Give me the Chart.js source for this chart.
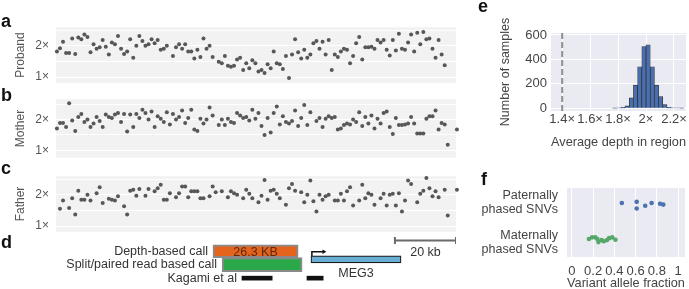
<!DOCTYPE html>
<html>
<head>
<meta charset="utf-8">
<script src="https://cdn.jsdelivr.net/npm/chart.js@4.4.0/dist/chart.umd.min.js"></script>
<style>
  body { margin: 0; background: #fff; }
  #fig { position: relative; width: 689px; height: 289px; overflow: hidden; font-family: "Liberation Sans", Arial, sans-serif; }
  canvas { position: absolute; }
  .panel { position: absolute; font-weight: bold; font-size: 18px; line-height: 18px; color: #111; }
</style>
</head>
<body>
<div id="fig">
  <canvas id="chartA" width="470" height="84" style="left:0;top:13px"></canvas>
  <canvas id="chartB" width="470" height="87" style="left:0;top:85px"></canvas>
  <canvas id="chartC" width="470" height="84" style="left:0;top:162px"></canvas>
  <canvas id="chartD" width="470" height="61" style="left:0;top:228px"></canvas>
  <canvas id="chartE" width="219" height="152" style="left:470px;top:0"></canvas>
  <canvas id="chartF" width="219" height="126" style="left:470px;top:165px"></canvas>
  <div class="panel" style="left:1px;top:12px">a</div>
  <div class="panel" style="left:1px;top:86px">b</div>
  <div class="panel" style="left:1px;top:159px">c</div>
  <div class="panel" style="left:1px;top:233px">d</div>
  <div class="panel" style="left:478px;top:-3px">e</div>
  <div class="panel" style="left:481px;top:170px">f</div>
</div>
<script>
// read depth per 1 kb window (x = window index, kb)
const probandDepth = [1.82, 1.92, 2.13, 1.77, 1.77, 2.23, 1.74, 2.26, 2.21, 2.36,
  2.28, 1.79, 2.05, 1.90, 1.95, 2.18, 1.97, 1.72, 2.10, 2.05,
  2.31, 1.90, 1.74, 1.82, 2.21, 1.62, 2.00, 2.31, 2.15, 2.00,
  2.05, 2.21, 2.08, 2.18, 1.87, 1.90, 2.00, null, 1.67, 1.95,
  2.05, 1.90, 2.05, 1.82, 1.82, 1.59, 1.87, 1.64, 2.23, 1.90,
  2.00, 1.64, null, 1.49, 1.44, 1.67, 1.36, 1.33, 1.36, 1.56,
  1.62, 1.23, 1.44, 1.28, 1.54, 1.44, 1.18, 1.23, 1.13, 1.41,
  1.28, 1.82, 1.44, 1.41, 1.26, 1.67, 0.97, 1.72, 2.21, 1.79,
  1.59, 1.87, 1.62, 1.72, 2.08, 2.15, 1.90, 2.13, 1.72, 2.18,
  1.23, 1.72, 1.64, 1.82, 1.90, 1.87, 1.44, 1.67, 2.08, 2.28,
  1.56, 1.95, 1.95, 1.97, 1.90, 2.18, 2.10, 2.18, 1.87, 1.69,
  2.18, 1.85, 2.38, 1.90, 1.87, 2.10, 2.36, 1.82, 2.41, 2.05,
  2.44, 2.21, 2.23, 1.90, 1.62, 2.18, 1.72, 1.38];

const motherDepth = [1.71, 1.89, 1.89, 1.76, 2.53, 1.97, 1.63, 2.08, 2.18, 1.92,
  2.00, 1.76, 1.87, 2.08, 1.95, 1.76, 2.16, 2.08, 2.05, 2.16,
  2.21, 1.92, 2.18, 1.61, 2.16, 1.76, 2.18, 2.05, 2.32, 2.21,
  2.00, 2.26, 1.76, 2.11, 2.03, 1.92, 2.24, 1.84, 2.18, 2.00,
  2.08, 2.29, 1.89, 2.05, 2.32, 1.68, 1.63, 2.03, 1.87, 2.00,
  2.39, 2.13, null, 1.82, 2.00, 1.82, 2.03, 1.92, 1.89, 2.21,
  2.13, 2.05, 2.08, 1.97, 2.32, 2.03, 2.21, 1.79, 1.50, 2.05,
  1.58, 2.21, 2.42, 1.84, 2.11, 1.92, 1.87, 1.95, 2.29, 1.79,
  2.05, 2.47, 1.82, 2.24, null, 1.95, 2.05, 1.76, 2.03, 2.11,
  2.05, 2.08, 1.68, 1.71, 1.82, 1.87, 1.84, 2.00, 1.92, 2.24,
  1.79, 2.08, 1.87, 2.13, 1.71, 2.03, 1.87, 2.21, 2.26, 1.76,
  1.53, 2.05, 1.82, 1.82, 1.84, 1.87, 2.08, 1.87, 1.55, 1.55,
  1.55, 2.03, 2.11, 2.11, 2.29, 1.68, 1.89, 1.84, 1.18, null,
  null, 1.68];

const fatherDepth = [null, 1.55, 1.82, null, 1.58, 1.89, 1.37, 2.13, 1.84, 1.84,
  2.00, 1.82, null, 2.05, 2.24, 1.74, null, 1.87, 1.84, 1.82,
  1.95, null, 1.63, 1.37, 2.13, 2.16, 1.97, 2.18, null, 1.97,
  2.18, null, 2.11, 2.21, 2.32, 1.84, 1.84, 2.05, null, 1.92,
  2.05, 2.26, 2.26, 1.92, 2.11, 2.11, 2.11, 1.89, 1.89, null,
  1.95, 2.26, 2.08, null, 2.11, null, 1.92, 2.11, 2.05, 2.00,
  null, 1.89, 2.16, 2.03, 1.89, null, 1.76, 1.97, 2.47, 1.84,
  2.13, 2.16, 2.03, 1.89, null, 1.68, 2.21, 2.34, 2.13, null,
  2.08, 1.76, 2.00, 2.45, 1.79, 1.47, 2.00, 1.84, 1.95, 2.00,
  null, 1.82, 1.82, 2.03, 1.82, 2.11, 2.24, 1.66, null, 1.82,
  2.32, 1.89, 2.05, 2.00, 1.68, null, 1.89, 2.03, 1.66, 2.00,
  2.03, 1.66, 2.05, 1.47, 1.82, 2.45, 2.34, null, 1.76, 2.03,
  2.13, 2.53, 2.21, 1.95, 2.11, 1.92, null, 2.16, 1.34, null,
  null, 2.16];

const depthGrid = [1, 1.5, 2, 2.5];
const depthTicks = [1, 2];
const depthTickLabels = ['1\u00d7', '2\u00d7'];

// panel d tracks (kb, same axis as the depth windows)
const trackNames = ['Depth-based call', 'Split/paired read based call', 'Kagami et al'];
const depthCall = [51.1, 79.0];
const depthCallLabel = '26.3 KB';
const splitCall = [54.1, 80.3];
const kagami = [[60.6, 70.5], [81.9, 87.2]];
const meg3 = [83.2, 112.7];
const meg3Tss = 83.5;
const scaleBar = [110.7, 130.7];
const scaleBarLabel = '20 kb';

// panel e histogram
const histCenters = [1.775, 1.805, 1.835, 1.865, 1.895, 1.925, 1.955, 1.985, 2.015,
  2.045, 2.075, 2.105, 2.135, 2.165, 2.195, 2.225, 2.255];
const histCounts = [2, 4, 8, 20, 85, 190, 340, 505, 520, 340, 190, 95, 30, 8, 4, 3, 2];
const probandMark = 1.4;
const histXTicks = [1.4, 1.6, 1.8, 2.0, 2.2];
const histXLabels = ['1.4\u00d7', '1.6\u00d7', '1.8\u00d7', '2\u00d7', '2.2\u00d7'];
const countTicks = [0, 200, 400, 600];

// panel f allele fractions
const snvGroups = [['Paternally', 'phased SNVs'], ['Maternally', 'phased SNVs']];
const paternalVaf = [0.47, 0.61, 0.61, 0.69, 0.75, 0.83, 0.86];
const paternalRow = [0.01, -0.02, 0.15, 0.08, 0.01, 0.03, 0.05];
const maternalVaf = [0.16, 0.19, 0.22, 0.24, 0.25, 0.28, 0.30, 0.33, 0.35, 0.38, 0.41];
const maternalRow = [0.92, 0.88, 0.88, 0.92, 1.0, 0.95, 0.98, 0.95, 0.90, 0.88, 0.94];
const vafTicks = [0, 0.2, 0.4, 0.6, 0.8, 1];
const vafLabels = ['0', '0.2', '0.4', '0.6', '0.8', '1'];

Chart.defaults.font.family = '"Liberation Sans", Arial, sans-serif';
Chart.defaults.animation = false;
Chart.defaults.responsive = false;
Chart.defaults.devicePixelRatio = 1;
Chart.defaults.plugins.legend.display = false;
Chart.defaults.plugins.tooltip.enabled = false;

const FONT = '"Liberation Sans", Arial, sans-serif';
const X_MIN = -0.3, X_MAX = 130.7;

const bandFill = {
  id: 'bandFill',
  beforeDraw(chart, args, opts) {
    const a = chart.chartArea;
    const ctx = chart.ctx;
    ctx.save();
    ctx.fillStyle = opts.color;
    ctx.fillRect(a.left, a.top, a.right - a.left, a.bottom - a.top);
    ctx.restore();
  }
};

function depthPanel(id, name, values, yMin, yMax) {
  return new Chart(document.getElementById(id), {
    type: 'scatter',
    data: {
      datasets: [{
        data: values.map((v, i) => ({ x: i, y: v })),
        pointRadius: 2,
        pointBackgroundColor: '#575757',
        pointBorderWidth: 0,
        clip: false
      }]
    },
    options: {
      layout: { padding: { left: 0, right: 14, top: 10, bottom: 5 } },
      plugins: { bandFill: { color: '#f2f2f2' } },
      scales: {
        x: { display: false, min: X_MIN, max: X_MAX },
        y: {
          min: yMin, max: yMax,
          afterFit: s => { s.width = 56; },
          afterBuildTicks: s => { s.ticks = depthGrid.map(v => ({ value: v })); },
          grid: { color: '#ffffff', lineWidth: 1, drawTicks: false },
          border: { display: false },
          ticks: {
            padding: 7, color: '#555', font: { size: 12 },
            callback: v => depthTickLabels[depthTicks.indexOf(v)] ?? ''
          },
          title: { display: true, text: name, color: '#555', font: { size: 12 }, padding: { top: 13, bottom: 0 } }
        }
      }
    },
    plugins: [bandFill]
  });
}

depthPanel('chartA', 'Proband', probandDepth, 0.82, 2.59);
depthPanel('chartB', 'Mother', motherDepth, 0.76, 2.66);
depthPanel('chartC', 'Father', fatherDepth, 0.82, 2.59);

// panel d: annotation tracks
const trackText = {
  id: 'trackText',
  afterDatasetsDraw(chart) {
    const { ctx, scales: { x, y } } = chart;
    const starts = [depthCall[0], splitCall[0], kagami[0][0]];
    ctx.save();
    ctx.font = '12.5px ' + FONT;
    ctx.textBaseline = 'middle';
    ctx.fillStyle = '#333';
    ctx.textAlign = 'right';
    trackNames.forEach((t, i) => {
      ctx.fillText(t, x.getPixelForValue(starts[i]) - 5, y.getPixelForValue(i + 1));
    });
    ctx.textAlign = 'center';
    ctx.fillStyle = '#5a2a0e';
    ctx.fillText(depthCallLabel, x.getPixelForValue((depthCall[0] + depthCall[1]) / 2), y.getPixelForValue(1) + 1);
    ctx.fillStyle = '#333';
    ctx.fillText('MEG3', x.getPixelForValue((meg3[0] + meg3[1]) / 2), y.getPixelForValue(1.6) + 14);
    ctx.fillText(scaleBarLabel, x.getPixelForValue((scaleBar[0] + scaleBar[1]) / 2), y.getPixelForValue(0.2) + 12);
    ctx.restore();
  }
};

new Chart(document.getElementById('chartD'), {
  type: 'bar',
  data: {
    datasets: [
      { indexAxis: 'y', grouped: false, data: [{ x: depthCall, y: 1 }], backgroundColor: '#e4641e',
        borderColor: '#8a8a8a', borderWidth: 2, borderSkipped: false, barThickness: 13 },
      { indexAxis: 'y', grouped: false, data: [{ x: splitCall, y: 2 }], backgroundColor: '#2aa84a',
        borderColor: '#8a8a8a', borderWidth: 2, borderSkipped: false, barThickness: 14 },
      { indexAxis: 'y', grouped: false, data: [{ x: meg3, y: 1.6 }], backgroundColor: '#6aaed6',
        borderColor: '#1a1a1a', borderWidth: 1.2, borderSkipped: false, barThickness: 7 },
      { indexAxis: 'y', grouped: false, data: kagami.map(r => ({ x: r, y: 3 })), backgroundColor: '#111',
        borderWidth: 0, barThickness: 4 },
      { type: 'line', data: [{ x: meg3Tss, y: 1.45 }, { x: meg3Tss, y: 1.03 }, { x: meg3Tss + 3.9, y: 1.03 }],
        borderColor: '#111', borderWidth: 1.5, pointStyle: 'triangle', rotation: 90,
        pointRadius: [0, 0, 2.6], pointBackgroundColor: '#111', pointBorderWidth: 0 },
      { type: 'line', data: [{ x: scaleBar[0], y: 0.2 }, { x: scaleBar[1], y: 0.2 }],
        borderColor: '#6b6b6b', borderWidth: 2, pointStyle: 'line', rotation: 90,
        pointRadius: 3.5, pointBorderColor: '#6b6b6b', pointBorderWidth: 2 }
    ]
  },
  options: {
    layout: { padding: { left: 56, right: 14, top: 0, bottom: 0 } },
    scales: {
      x: { type: 'linear', display: false, min: X_MIN, max: X_MAX, offset: false, grid: { offset: false } },
      y: { type: 'linear', display: false, reverse: true, min: -0.28, max: 3.36, offset: false, grid: { offset: false } }
    }
  },
  plugins: [trackText]
});

// panel e: histogram of average depth
new Chart(document.getElementById('chartE'), {
  type: 'bar',
  data: {
    datasets: [
      { type: 'line', data: [{ x: probandMark, y: -22 }, { x: probandMark, y: 616 }],
        borderColor: '#8f8f8f', borderWidth: 2, borderDash: [6, 3], pointRadius: 0 },
      { data: histCenters.map((x, i) => ({ x, y: histCounts[i] })), backgroundColor: '#4a6fae',
        borderColor: '#2b2b2b', borderWidth: 0.7, barPercentage: 1, categoryPercentage: 1 }
    ]
  },
  options: {
    layout: { padding: { left: 0, right: 3, top: 33, bottom: 0 } },
    plugins: { bandFill: { color: '#eaeaf2' } },
    scales: {
      x: {
        type: 'linear', min: 1.32, max: 2.286, offset: false,
        afterFit: s => { s.height = 41; },
        afterBuildTicks: s => { s.ticks = histXTicks.map(v => ({ value: v })); },
        grid: { color: '#fff', drawTicks: false, offset: false },
        border: { display: false },
        ticks: { padding: 1, color: '#444', font: { size: 13 }, maxRotation: 0, minRotation: 0, autoSkip: false,
                 callback: (v, i) => histXLabels[i] },
        title: { display: true, text: 'Average depth in region', color: '#444', font: { size: 13 }, padding: { top: 0, bottom: 2 } }
      },
      y: {
        min: -22, max: 616,
        afterFit: s => { s.width = 81; },
        afterBuildTicks: s => { s.ticks = countTicks.map(v => ({ value: v })); },
        grid: { color: '#fff', drawTicks: false },
        border: { display: false },
        ticks: { padding: 4, color: '#444', font: { size: 13 } },
        title: { display: true, text: 'Number of samples', color: '#444', font: { size: 12.5 }, padding: { top: 28, bottom: 0 } }
      }
    }
  },
  plugins: [bandFill]
});

// panel f: variant allele fraction strip plot
new Chart(document.getElementById('chartF'), {
  type: 'scatter',
  data: {
    datasets: [
      { data: paternalVaf.map((v, i) => ({ x: v, y: paternalRow[i] })), pointRadius: 2.3,
        pointBackgroundColor: '#4c72b0', pointBorderWidth: 0 },
      { data: maternalVaf.map((v, i) => ({ x: v, y: maternalRow[i] })), pointRadius: 2.3,
        pointBackgroundColor: '#55a868', pointBorderWidth: 0 }
    ]
  },
  options: {
    layout: { padding: { left: 0, right: 1, top: 18, bottom: 0 } },
    plugins: { bandFill: { color: '#eaeaf2' } },
    scales: {
      x: {
        min: -0.046, max: 1.064,
        afterFit: s => { s.height = 34; },
        afterBuildTicks: s => { s.ticks = vafTicks.map(v => ({ value: v })); },
        grid: { color: '#fff', drawTicks: false },
        border: { display: false },
        ticks: { padding: 7, color: '#444', font: { size: 13 }, maxRotation: 0, minRotation: 0, autoSkip: false,
                 callback: (v, i) => vafLabels[i] },
        title: { display: true, text: 'Variant allele fraction', color: '#444', font: { size: 13 }, padding: { top: 0, bottom: 0 } }
      },
      y: {
        reverse: true, min: -0.371, max: 1.378,
        afterFit: s => { s.width = 97; },
        afterBuildTicks: s => { s.ticks = [0, 1].map(v => ({ value: v })); },
        grid: { display: false, drawTicks: false },
        border: { display: false },
        ticks: { padding: 9, color: '#444', font: { size: 12.5, lineHeight: 1.12 }, callback: v => snvGroups[v] }
      }
    }
  },
  plugins: [bandFill]
});
</script>
</body>
</html>
